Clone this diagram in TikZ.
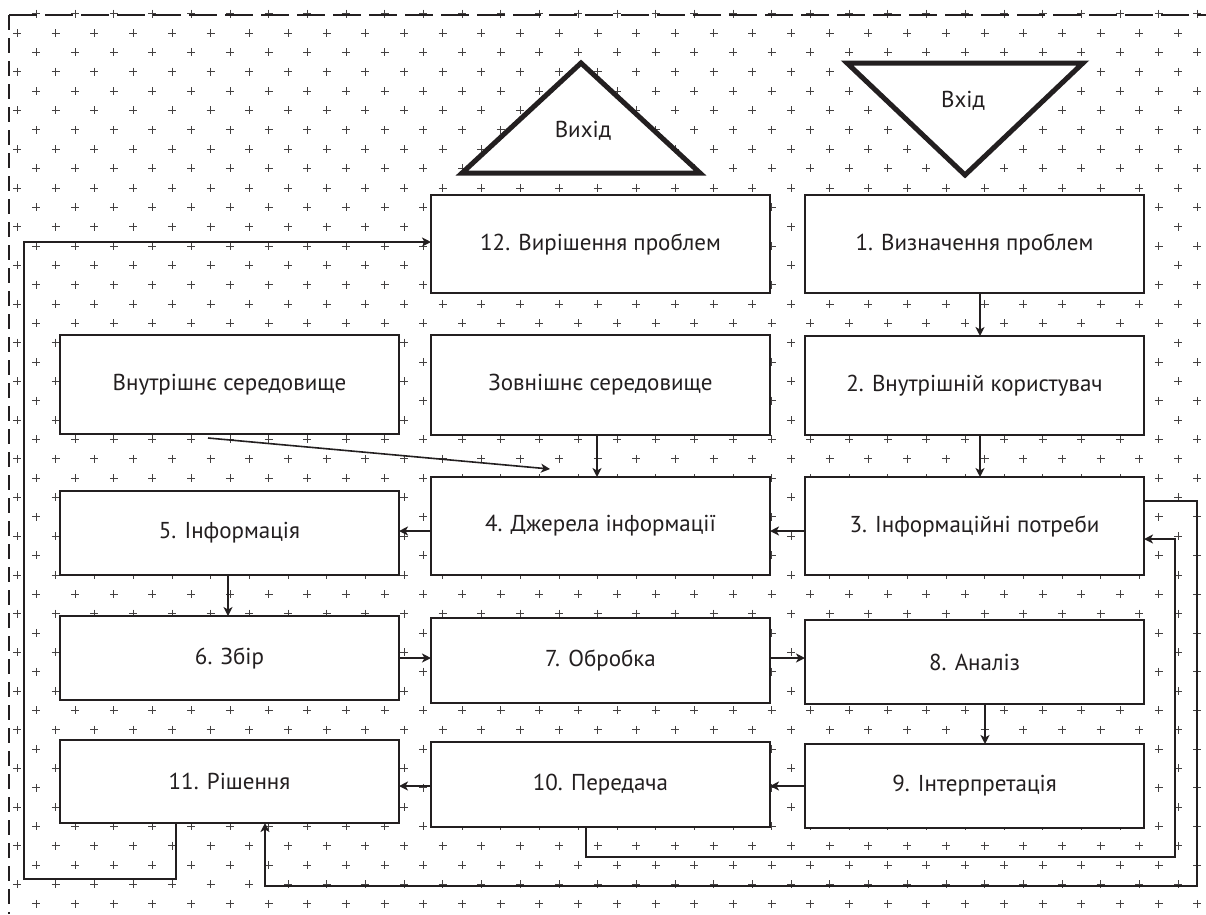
\documentclass[tikz,border=0pt]{standalone}
\usepackage{fontspec}
\setmainfont{PT Sans}
\usetikzlibrary{arrows.meta,calc}
\definecolor{ink}{HTML}{231F20}
\tikzset{
  box/.style={draw=ink, line width=2.6pt, fill=white, rectangle, inner sep=0pt, outer sep=0pt,
    minimum width=339pt, text=ink, font=\fontsize{23}{26}\selectfont},
  conn/.style={draw=ink, line width=1.6pt, -{Stealth[length=9pt,width=9pt,inset=2.5pt]}},
  plain/.style={draw=ink, line width=1.6pt},
  tri/.style={draw=ink, line width=5pt, fill=white, line join=miter},
  crossmark/.style={draw=ink!85, line width=0.6pt},
  border/.style={draw=ink, line width=1.3pt},
  lbl/.style={text=ink, font=\fontsize{23}{26}\selectfont, inner sep=0pt}
}
\begin{document}
\begin{tikzpicture}[x=1pt,y=-1pt]
\useasboundingbox (0,0) rectangle (1206,914);
\begin{scope}
\clip (9,8) rectangle (1206,914);
\foreach \k in {-1,...,46} {
  \pgfmathsetmacro\yy{33+19.35*\k}
  \pgfmathparse{isodd(\k) ? 36.35 : 17}
  \let\xo\pgfmathresult
  \draw[crossmark] \foreach \j in {0,...,31} {
    ({\xo+38.7*\j-4},\yy) -- ++(8,0) ({\xo+38.7*\j},{\yy-4}) -- ++(0,8)
  };
}
\end{scope}
% dashed border (top and left)
\draw[border, dash pattern=on 28pt off 8pt] (9,15) -- (1206,15);
\draw[border, dash pattern=on 15pt off 8pt] (9,15) -- (9,914);
% triangles
\draw[tri] (462,173) -- (581,63) -- (700,173) -- cycle;
\draw[tri] (847,63) -- (1083,63) -- (965,175) -- cycle;
\node[lbl] (out) at (583,131) {Вихід};
\node[lbl] (in) at (963,101) {Вхід};
% boxes
\node[box, minimum height=98pt] (b12) at (600.5,244) {12. Вирішення проблем};
\node[box, minimum height=98pt] (b1) at (974.5,244) {1. Визначення проблем};
\node[box, minimum height=99pt] (bin) at (229.5,384.5) {Внутрішнє середовище};
\node[box, minimum height=100pt] (bout) at (600.5,385) {Зовнішнє середовище};
\node[box, minimum height=99pt] (b2) at (974.5,385.5) {2. Внутрішній користувач};
\node[box, minimum height=84pt] (b5) at (229.5,533) {5. Інформація};
\node[box, minimum height=98pt] (b4) at (600.5,526) {4. Джерела інформації};
\node[box, minimum height=98pt] (b3) at (974.5,526) {3. Інформаційні потреби};
\node[box, minimum height=84pt] (b6) at (229.5,658) {6. Збір};
\node[box, minimum height=85pt] (b7) at (600.5,660.5) {7. Обробка};
\node[box, minimum height=84pt] (b8) at (974.5,662) {8. Аналіз};
\node[box, minimum height=83pt] (b11) at (229.5,781.5) {11. Рішення};
\node[box, minimum height=85pt] (b10) at (600.5,784.5) {10. Передача};
\node[box, minimum height=84pt] (b9) at (974.5,786) {9. Інтерпретація};
% connectors
\draw[conn] (b1.south -| 980,0) -- (b2.north -| 980,0);
\draw[conn] (b2.south -| 980,0) -- (b3.north -| 980,0);
\draw[conn] (bout.south -| 597,0) -- (b4.north -| 597,0);
\draw[conn] ($(bin.south -| 208,0)+(0,4)$) -- ($(b4.north -| 550,0)+(0,-8)$);
\draw[conn] (b3.west |- 0,531) -- (b4.east |- 0,531);
\draw[conn] (b4.west |- 0,531) -- (b5.east |- 0,531);
\draw[conn] (b5.south -| 228,0) -- (b6.north -| 228,0);
\draw[conn] (b6.east |- 0,658) -- (b7.west |- 0,658);
\draw[conn] (b7.east |- 0,658) -- (b8.west |- 0,658);
\draw[conn] (b8.south -| 985,0) -- (b9.north -| 985,0);
\draw[conn] (b9.west |- 0,786) -- (b10.east |- 0,786);
\draw[conn] (b10.west |- 0,786) -- (b11.east |- 0,786);
\draw[conn] (b10.south -| 586,0) |- (1175,857) |- (b3.east |- 0,539);
\draw[conn] (b3.east |- 0,501) -| (1197,886) -| (b11.south -| 265,0);
\draw[conn] (b11.south -| 176,0) |- (24,879) |- (b12.west |- 0,242);
\end{tikzpicture}
\end{document}
